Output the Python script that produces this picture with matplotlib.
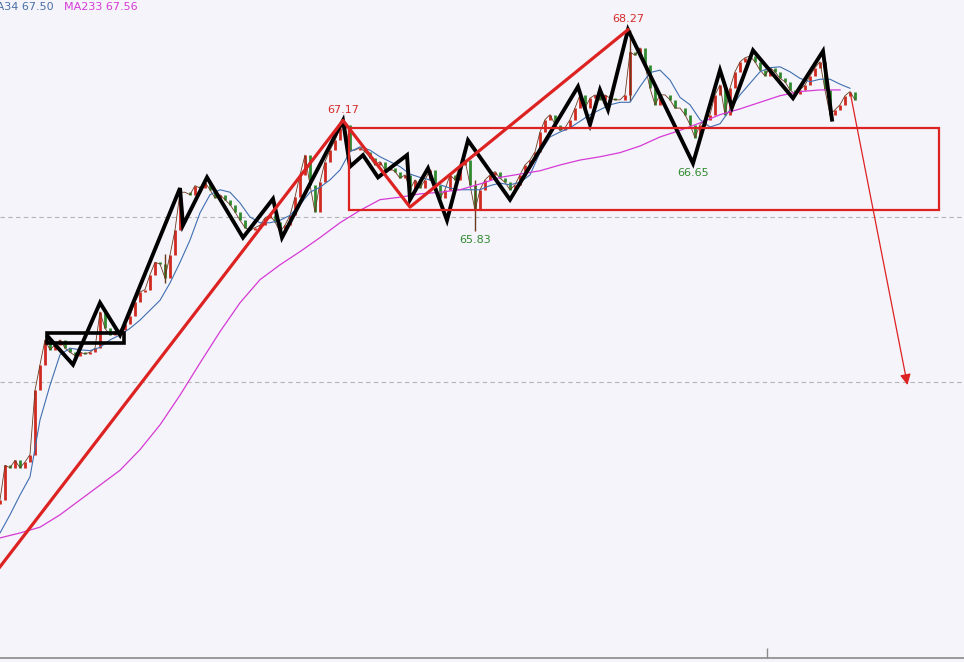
import numpy as np
import matplotlib
matplotlib.use("Agg")
import matplotlib.pyplot as plt
from matplotlib.patches import Rectangle

# close price of every bar (bar 0 .. 171)
close = [62.57, 62.99, 62.96, 63.05, 62.96, 63.03, 63.12, 63.90, 64.21, 64.51,
         64.39, 64.45, 64.51, 64.41, 64.36, 64.32, 64.36, 64.34, 64.36, 64.41,
         64.85, 64.65, 64.57, 64.61, 64.63, 64.70, 64.80, 64.97, 65.09, 65.12,
         65.30, 65.45, 65.43, 65.26, 65.54, 65.84, 66.30, 66.30, 66.27, 66.38,
         66.35, 66.42, 66.33, 66.23, 66.27, 66.21, 66.15, 66.06, 65.96, 65.87,
         65.84, 65.87, 65.90, 65.99, 66.02, 65.94, 65.82, 65.90, 66.02, 66.24,
         66.51, 66.75, 66.39, 66.06, 66.42, 66.67, 66.81, 66.93, 67.08, 67.12,
         66.81, 66.81, 66.84, 66.79, 66.72, 66.63, 66.67, 66.57, 66.59, 66.55,
         66.47, 66.51, 66.33, 66.45, 66.35, 66.45, 66.57, 66.39, 66.23, 66.33,
         66.51, 66.45, 66.63, 66.69, 66.39, 66.08, 66.33, 66.45, 66.51, 66.55,
         66.47, 66.42, 66.33, 66.39, 66.51, 66.63, 66.69, 66.79, 67.03, 67.18,
         67.24, 67.12, 67.05, 67.08, 67.18, 67.32, 67.48, 67.32, 67.44, 67.48,
         67.42, 67.48, 67.44, 67.42, 67.42, 67.48, 68.00, 67.96, 68.05, 67.84,
         67.56, 67.36, 67.48, 67.48, 67.42, 67.32, 67.32, 67.24, 67.12, 66.96,
         67.12, 67.18, 67.24, 67.48, 67.60, 67.24, 67.56, 67.76, 67.88, 67.93,
         67.95, 67.88, 67.78, 67.71, 67.81, 67.76, 67.68, 67.64, 67.54, 67.49,
         67.54, 67.60, 67.71, 67.81, 67.88, 67.54, 67.24, 67.30, 67.36, 67.47,
         67.52, 67.42]

# a few long wicks
wick_bar = [33, 95, 126]
wick_lo = [65.20, 65.83, 67.40]
wick_hi = [65.55, 66.45, 68.27]

# moving averages (MA34 every 2 bars, MA233 every 4 bars)
ma34 = [62.17, 62.39, 62.63, 62.85, 63.54, 63.96, 64.33, 64.41, 64.39, 64.38,
        64.42, 64.51, 64.57, 64.65, 64.75, 64.87, 64.99, 65.20, 65.45, 65.72,
        66.05, 66.27, 66.33, 66.30, 66.17, 66.00, 65.93, 65.93, 65.96, 66.02,
        66.15, 66.30, 66.36, 66.45, 66.57, 66.79, 66.85, 66.81, 66.73, 66.67,
        66.61, 66.52, 66.48, 66.45, 66.39, 66.35, 66.33, 66.33, 66.33, 66.38,
        66.41, 66.39, 66.42, 66.51, 66.78, 66.97, 67.03, 67.08, 67.16, 67.24,
        67.30, 67.36, 67.39, 67.39, 67.58, 67.75, 67.78, 67.66, 67.45, 67.36,
        67.18, 67.09, 67.13, 67.30, 67.48, 67.62, 67.76, 67.81, 67.82, 67.76,
        67.68, 67.64, 67.67, 67.67, 67.61, 67.56]
ma233 = [62.11, 62.17, 62.24, 62.39, 62.57, 62.75, 62.93, 63.18, 63.48, 63.84,
         64.23, 64.61, 64.96, 65.24, 65.42, 65.58, 65.75, 65.93, 66.08, 66.21,
         66.24, 66.28, 66.30, 66.33, 66.40, 66.48, 66.52, 66.56, 66.63, 66.69,
         66.73, 66.78, 66.86, 66.97, 67.05, 67.14, 67.24, 67.31, 67.39, 67.47,
         67.52, 67.54, 67.54]

# hand drawn wave lines
zig_bar = [9.6, 14.6, 20.0, 24.0, 36.0, 36.6, 41.4, 48.6, 54.6, 56.4, 68.6,
           70.0, 72.6, 75.6, 81.4, 82.0, 85.6, 89.4, 93.6, 102.0, 115.6, 118.0,
           120.0, 121.6, 125.6, 138.6, 144.0, 146.4, 150.6, 158.6, 164.6, 166.4]
zig_price = [64.55, 64.21, 64.96, 64.57, 66.35, 65.90, 66.48, 65.75, 66.22,
             65.75, 67.17, 66.61, 66.75, 66.48, 66.75, 66.21, 66.59, 65.96,
             66.93, 66.21, 67.58, 67.12, 67.54, 67.30, 68.27, 66.65, 67.78,
             67.33, 68.02, 67.44, 68.01, 67.18]
box_bar = [9.4, 24.8]
box_price = [64.47, 64.59]

trend_bar = [0, 68.6, 82.0, 125.6]
trend_price = [61.76, 67.17, 66.12, 68.27]
range_bar = [69.8, 187.8]
range_price = [66.08, 67.08]
arrow_bar = [170, 181.6]
arrow_price = [67.52, 63.93]

# labelled extremes
peak_bar = [68.6, 125.6]
peak_price = [67.17, 68.27]
low_bar = [95, 138.6]
low_price = [65.83, 66.65]

grid_price = [64, 66]

bg = '#f5f4fa'
red = '#dd2222'
up_col = '#d02a20'
down_col = '#2f8a2f'

fig = plt.figure(figsize=(9.64, 6.62), dpi=100, facecolor=bg)
ax = fig.add_axes([0, 0, 1, 1])
ax.set_facecolor(bg)
ax.set_xlim(0, 192.8)
ax.set_ylim(60.606, 68.63)
ax.axis('off')

for g in grid_price:
    ax.axhline(g, color='#b4b4b4', lw=0.8, ls=(0, (4, 3)), zorder=1)

# bottom axis
ax.axhline(60.655, color='#8a8a8a', lw=1.2, zorder=1)
ax.vlines(153.4, 60.655, 60.78, color='#8a8a8a', lw=1)

# bars
x = np.arange(len(close))
opn = np.r_[close[0] - 0.05, close[:-1]]
cl = np.array(close)
for i in x:
    c = up_col if cl[i] >= opn[i] else down_col
    ax.vlines(i, min(opn[i], cl[i]), max(opn[i], cl[i]), color=c, lw=2.0, zorder=2)
ax.plot(x, cl, color='#6b3a1e', lw=0.6, zorder=2)
ax.vlines(wick_bar, wick_lo, wick_hi, color='#6b3a1e', lw=1.0, zorder=2)

ax.plot(np.arange(len(ma34)) * 2, ma34, color='#3f6fb0', lw=0.8, zorder=3)
ax.plot(np.arange(len(ma233)) * 4, ma233, color='#d63ad6', lw=0.9, zorder=3)

# wave lines and box
ax.plot(zig_bar, zig_price, color='black', lw=2.8, solid_joinstyle='miter', zorder=4)
ax.add_patch(Rectangle((box_bar[0], box_price[0]), box_bar[1] - box_bar[0],
                       box_price[1] - box_price[0], fill=False, ec='black', lw=2.6, zorder=4))

# red trend lines, range box, arrow
ax.plot(trend_bar, trend_price, color=red, lw=2.3, zorder=5)
ax.add_patch(Rectangle((range_bar[0], range_price[0]), range_bar[1] - range_bar[0],
                       range_price[1] - range_price[0], fill=False, ec=red, lw=1.6, zorder=5))
ax.annotate('', xy=(arrow_bar[1], arrow_price[1]), xytext=(arrow_bar[0], arrow_price[0]),
            arrowprops=dict(arrowstyle='-|>', color=red, lw=0.9, mutation_scale=16), zorder=5)

for b, p in zip(peak_bar, peak_price):
    ax.annotate(f'{p:.2f}', (b, p), xytext=(0, 4), textcoords='offset points',
                ha='center', va='bottom', color='#d42a2a', fontsize=8)
for b, p in zip(low_bar, low_price):
    ax.annotate(f'{p:.2f}', (b, p), xytext=(0, -3), textcoords='offset points',
                ha='center', va='top', color='#2f8a2f', fontsize=8)

fig.text(-0.014, 0.989, 'MA34 67.50', color='#4a6fa5', fontsize=8, va='center')
fig.text(0.066, 0.989, 'MA233 67.56', color='#d63ad6', fontsize=8, va='center')

fig.savefig('out.png', dpi=100, facecolor=bg)
